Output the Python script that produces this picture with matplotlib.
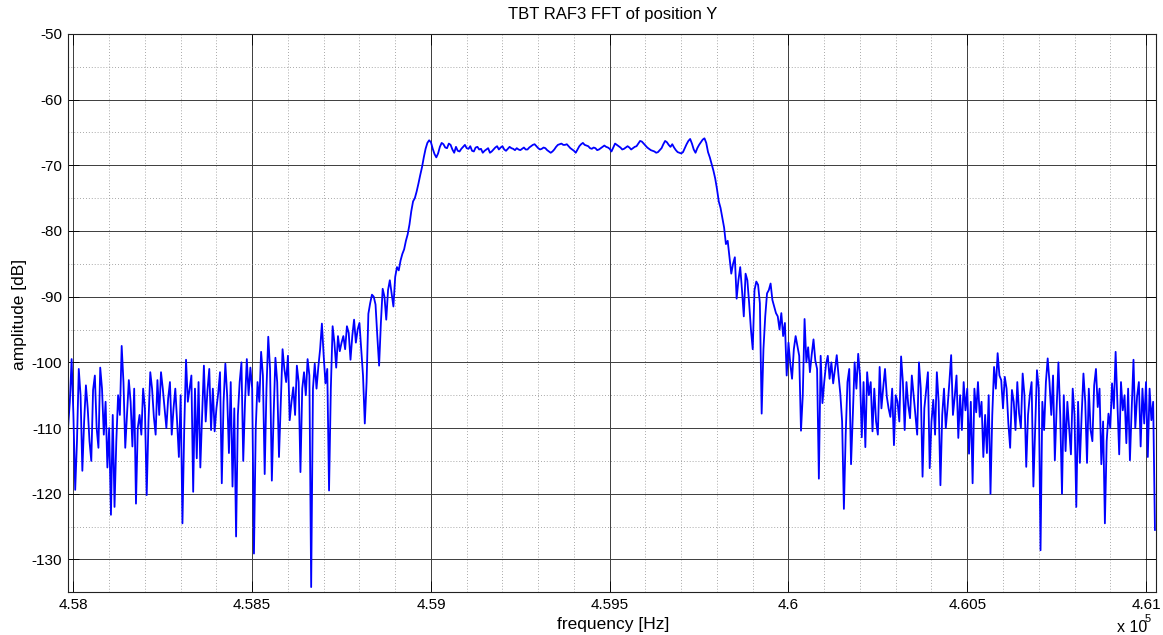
import numpy as np
import matplotlib
matplotlib.use("Agg")
import matplotlib.pyplot as plt
from matplotlib.ticker import MultipleLocator, FixedLocator, FixedFormatter

plt.rcParams['font.family'] = ['Liberation Sans', 'DejaVu Sans']
plt.rcParams['axes.unicode_minus'] = False

# ---- data (FFT bins, 5 Hz spacing) ----
freq_start = 457985.0   # Hz, first FFT bin shown
freq_step = 5.0         # Hz, bin spacing

# amplitudes [dB] at even bins (every 10 Hz)
amp_left_noise = [
    -110, -99.5, -119.4, -101, -116.5, -103.5, -112, -104.2, -110, -100.8,
    -111, -116, -123.2, -122, -105, -97.5, -113, -102.7, -112.8, -121.5,
    -108, -104, -120.2, -101.5, -108.3, -102.7, -101.5, -107, -105.5, -111,
    -104, -114.4, -124.5, -99.6, -104, -119.7, -114.6, -116, -100.5, -104.2,
    -110.3, -110.5, -104.7, -118.4, -100.2, -113.8, -118.9, -126.5, -103, -115,
    -99.5, -100.8, -129.1, -103, -98.4, -117, -96.1, -118, -99.3, -114.4,
    -98, -103, -108.8, -103.8, -100.5, -116.7, -101.5, -99.5, -134.2, -100.2,
    -100.7, -94.1, -103.2, -119.5, -94.5, -100.8, -98.3,
]
amp_rising_edge = [
    -96, -94.5, -99.6, -93.5, -95, -97.9, -109.3, -92.6, -89.7, -91.2,
    -100.5, -88.8, -93.5, -87.5, -91.5, -85.5, -84.5, -82.8, -80.5, -77,
    -75, -72.8, -70.3, -67.5, -66.2,
]
amp_passband = [
    -67.5, -68.8, -67.2, -66.8, -67.4, -66.9, -68.1, -67.8, -67.5, -66.9,
    -67.5, -67.8, -67.3, -67.6, -68.1, -67.6, -68.1, -67.6, -67.1, -67.3,
    -67.6, -67.5, -67.4, -67.7, -67.6, -67.5, -67.6, -67.3, -66.9, -67.1,
    -67.6, -67.3, -67.7, -68.1, -67.6, -66.9, -66.7, -66.9, -67.1, -67.6,
    -68.1, -67.1, -66.6, -67.0, -67.4, -67.3, -67.7, -67.4, -67.0, -67.3,
    -67.9, -66.7, -67.1, -67.6, -67.3, -67.3, -67.4, -67.1, -66.3, -66.7,
    -67.3, -67.7, -67.9, -68.0, -67.4, -66.3, -66.9, -66.8, -67.7, -68.1,
    -68.0, -66.8, -66.0, -67.6, -67.4, -66.5, -65.9, -68.0, -69.8,
]
amp_falling_edge = [
    -72, -75.5, -78, -82, -84, -85, -90.3, -85.5, -93, -87.5,
    -95, -89, -88.2, -107.8, -93, -89, -90.5, -92.5, -95, -96,
    -102, -100.2, -98,
]
amp_right_noise = [
    -97.5, -110.4, -93.4, -97.7, -98.8, -99.7, -117.7, -106.2, -100.3, -102.5,
    -103.2, -98.9, -104.8, -122.3, -103, -115.5, -100, -98.7, -111.4, -112.9,
    -105, -110.5, -109, -100.7, -103.8, -105.2, -108.3, -112.6, -106, -99.1,
    -110.3, -106.5, -102, -108, -100, -117.4, -104.2, -116.1, -105.7, -101.5,
    -118.7, -104, -106.8, -98.9, -105.2, -111.5, -110.3, -107.3, -113.9, -118.4,
    -107.6, -108.3, -114.4, -113.8, -120, -100.7, -98.6, -102.7, -102.2, -109.3,
    -104.2, -110.3, -107.8, -101.7, -115.9, -105, -118.9, -101.2, -128.6, -110.3,
    -99.4, -108, -114.9, -100, -120, -113.5, -110, -104, -122, -115.3,
    -101.7, -115.3, -110.3, -103.5, -106.8, -115.5, -124.5, -107.8, -103.2, -98.4,
    -114, -107.3, -112.3, -114.9, -99.6, -105.2, -112.8, -109.3, -114.4, -108.8,
    -125.5,
]

# amplitudes [dB] at odd bins (between the even ones)
mid_left_noise = [
    -106, -108, -112, -105, -109, -107, -115, -102, -113, -104,
    -106, -110, -108, -112, -108, -103, -108, -106, -104, -110,
    -111, -107, -109, -104, -111, -108, -104, -110, -103, -107,
    -109, -105, -110, -106, -102, -104, -103, -108, -109, -101,
    -104, -107, -101.5, -106, -105, -103, -107, -108, -100, -106,
    -105, -104, -110, -106, -102, -104, -101, -108, -103, -106,
    -101, -99, -106, -108, -103, -104, -105, -102, -104, -104,
    -98, -99, -101, -104, -97, -96, -97,
]
mid_rising_edge = [
    -98, -95.5, -96, -97, -94, -102, -103, -91, -90, -96,
    -94, -90, -89, -89.5, -87, -86, -83.5, -81.5, -79, -75.5,
    -74, -71.5, -68.8, -66.6, -66.5,
]
mid_passband = [
    -68.3, -68.2, -66.6, -67.3, -66.7, -67.6, -67.2, -67.9, -67.2, -67.4,
    -67.1, -67.9, -67.2, -67.5, -67.8, -67.4, -67.9, -67.3, -67.6, -67.1,
    -67.8, -67.2, -67.5, -67.4, -67.7, -67.3, -67.6, -67.1, -66.8, -67.4,
    -67.5, -67.4, -67.9, -67.9, -67.2, -66.8, -66.9, -66.8, -67.4, -67.8,
    -67.6, -66.8, -66.9, -67.1, -67.5, -67.4, -67.6, -67.2, -67.2, -67.5,
    -67.3, -66.9, -67.3, -67.5, -67.1, -67.6, -67.2, -66.7, -66.4, -67.0,
    -67.5, -67.8, -68.1, -67.7, -66.8, -66.5, -67.2, -67.3, -68.0, -68.2,
    -67.4, -66.3, -66.7, -68.1, -66.9, -66.1, -66.6, -68.8, -70.8,
]
mid_falling_edge = [
    -73.6, -76.5, -79.5, -81.5, -86.5, -84, -87.5, -89, -86.5, -91,
    -98, -87.7, -91, -98, -89.5, -88, -91.5, -93, -92.5, -94,
    -97, -102.5, -96,
]
mid_right_noise = [
    -99, -105, -100, -101.5, -96.5, -101, -99, -103, -99, -100,
    -101, -102, -109, -111, -101, -108, -104, -102, -103, -101.5,
    -103, -104, -111, -107, -101, -107, -104, -105, -109, -103,
    -103, -108.5, -105, -111, -104, -107, -101.5, -109, -111, -106,
    -108, -110, -103, -108, -102, -105, -103, -104, -106, -104,
    -103, -106, -108, -105, -108, -104, -102, -107, -104, -113,
    -106, -103, -110, -105, -108, -103, -110, -104, -106, -103,
    -103, -102, -107, -108, -105, -106, -114, -108, -106, -108,
    -106, -104, -112, -101, -104, -109, -112, -110, -107, -106,
    -103, -105, -104, -107, -110, -103, -104, -103, -104, -106,
]

even_bins = np.array(amp_left_noise + amp_rising_edge + amp_passband
                     + amp_falling_edge + amp_right_noise)
odd_bins = np.array(mid_left_noise + mid_rising_edge + mid_passband
                    + mid_falling_edge + mid_right_noise)
amplitude = np.empty(len(even_bins) + len(odd_bins))
amplitude[0::2] = even_bins
amplitude[1::2] = odd_bins
frequency = freq_start + freq_step * np.arange(len(amplitude))

x_tick_values = [458000, 458500, 459000, 459500, 460000, 460500, 461000]
x_tick_labels = ['4.58', '4.585', '4.59', '4.595', '4.6', '4.605', '4.61']
y_tick_values = [-130, -120, -110, -100, -90, -80, -70, -60, -50]

# ---- figure ----
fig = plt.figure(figsize=(11.63, 6.35), dpi=100)
ax = fig.add_axes([0.0582, 0.0672, 0.9358, 0.8795])

ax.plot(frequency, amplitude, color='#0000ff', lw=1.3)

ax.set_xlim(457984, 461028)
ax.set_ylim(-135, -50)

ax.xaxis.set_major_locator(FixedLocator(x_tick_values))
ax.xaxis.set_major_formatter(FixedFormatter(x_tick_labels))
ax.yaxis.set_major_locator(FixedLocator(y_tick_values))
ax.xaxis.set_minor_locator(MultipleLocator(100))
ax.yaxis.set_minor_locator(MultipleLocator(5))

ax.set_axisbelow(True)
ax.grid(which='minor', color='#8c8c8c', lw=0.6, ls=(0, (1, 2.5)))
ax.grid(which='major', color='#3c3c3c', lw=0.7, ls='-')

ax.tick_params(which='major', direction='in', length=8, width=0.6,
               top=True, right=True, labelsize=11, pad=4, colors='black')
ax.tick_params(which='minor', length=0)
for sp in ax.spines.values():
    sp.set_linewidth(0.8)
    sp.set_color('#222222')

fig.text(0.527, 1 - 15 / 635, 'TBT RAF3 FFT of position Y',
         ha='center', va='center', fontsize=12)
fig.text(0.527, 1 - 625 / 635, 'frequency [Hz]',
         ha='center', va='center', fontsize=12.5)
fig.text(20 / 1163, 1 - 314 / 635, 'amplitude [dB]', rotation=90,
         ha='center', va='center', fontsize=12.5)
fig.text(1117 / 1163, 1 - 628 / 635, 'x 10', ha='left', va='center', fontsize=11.5)
fig.text(1145 / 1163, 1 - 619 / 635, '5', ha='left', va='center', fontsize=8)

fig.savefig('out.png', dpi=100)
